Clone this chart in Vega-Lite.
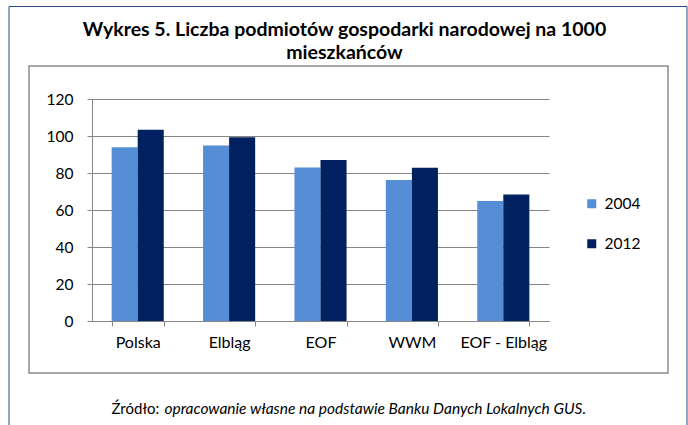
{
  "$schema": "https://vega.github.io/schema/vega-lite/v6.json",
  "width": 639,
  "height": 307,
  "autosize": {"type": "none"},
  "padding": {"left": 29, "top": 66, "right": 20, "bottom": 52},
  "background": "white",
  "title": {
    "text": ["Wykres 5. Liczba podmiotów gospodarki narodowej na 1000", "mieszkańców"],
    "font": "Lato",
    "fontSize": 19.5,
    "fontWeight": "bold",
    "color": "black",
    "anchor": "middle",
    "lineHeight": 23,
    "offset": -58,
    "dx": -4
  },
  "data": {
    "values": [
      {"kategoria": "Polska", "rok": "2004", "wartosc": 93.9},
      {"kategoria": "Polska", "rok": "2012", "wartosc": 103.4},
      {"kategoria": "Elbląg", "rok": "2004", "wartosc": 94.9},
      {"kategoria": "Elbląg", "rok": "2012", "wartosc": 99.3},
      {"kategoria": "EOF", "rok": "2004", "wartosc": 83.0},
      {"kategoria": "EOF", "rok": "2012", "wartosc": 87.0},
      {"kategoria": "WWM", "rok": "2004", "wartosc": 76.2},
      {"kategoria": "WWM", "rok": "2012", "wartosc": 82.8},
      {"kategoria": "EOF - Elbląg", "rok": "2004", "wartosc": 64.8},
      {"kategoria": "EOF - Elbląg", "rok": "2012", "wartosc": 68.4}
    ]
  },
  "mark": {"type": "bar", "strokeWidth": 0},
  "encoding": {
    "x": {
      "field": "kategoria",
      "type": "nominal",
      "sort": null,
      "scale": {"range": [63, 520], "paddingInner": 0.43, "paddingOuter": 0.215},
      "axis": {
        "title": "opracowanie własne na podstawie Banku Danych Lokalnych GUS.",
        "titleFont": "Lato",
        "titleFontStyle": "italic",
        "titleFontWeight": "normal",
        "titleFontSize": 15.5,
        "titleColor": "black",
        "titleX": 135,
        "titleY": 92,
        "titleAlign": "left",
        "titleBaseline": "alphabetic",
        "labelAngle": 0,
        "labelFont": "Lato",
        "labelFontSize": 16,
        "labelColor": "black",
        "labelPadding": 8,
        "tickBand": "extent",
        "tickSize": 5,
        "tickColor": "#868686",
        "domainColor": "#868686",
        "grid": false,
        "offset": -52
      }
    },
    "xOffset": {"field": "rok", "type": "nominal", "scale": {"paddingInner": 0}},
    "y": {
      "field": "wartosc",
      "type": "quantitative",
      "scale": {"domain": [0, 120], "range": [255, 33], "nice": false},
      "axis": {
        "title": "Źródło:",
        "titleFont": "Lato",
        "titleFontStyle": "normal",
        "titleFontWeight": "normal",
        "titleFontSize": 15,
        "titleColor": "black",
        "titleAngle": 0,
        "titleX": 19,
        "titleY": 347,
        "titleAlign": "left",
        "titleBaseline": "alphabetic",
        "values": [0, 20, 40, 60, 80, 100, 120],
        "grid": true,
        "gridColor": "#868686",
        "domainColor": "#868686",
        "tickColor": "#868686",
        "tickSize": 5,
        "labelFont": "Lato",
        "labelFontSize": 15.5,
        "labelColor": "black",
        "labelPadding": 14,
        "offset": -63
      }
    },
    "color": {
      "field": "rok",
      "type": "nominal",
      "scale": {"domain": ["2004", "2012"], "range": ["#558ED5", "#002060"]},
      "legend": {
        "orient": "none",
        "legendX": 555,
        "legendY": 130,
        "direction": "vertical",
        "title": null,
        "padding": 0,
        "labelFont": "Lato",
        "labelFontSize": 15.5,
        "labelColor": "black",
        "labelOffset": 5,
        "symbolType": "square",
        "symbolSize": 81,
        "symbolStrokeWidth": 0,
        "rowPadding": 23
      }
    },
    "stroke": {
      "field": "wartosc",
      "type": "quantitative",
      "scale": {"range": ["rgba(0,0,0,0)", "rgba(0,0,0,0)"]},
      "legend": {
        "orient": "none",
        "legendX": -20.5,
        "legendY": -60,
        "direction": "vertical",
        "title": null,
        "padding": 0,
        "gradientLength": 440,
        "gradientThickness": 678,
        "gradientStrokeWidth": 0,
        "labelExpr": "''",
        "labelOffset": 0,
        "labelFontSize": 1,
        "strokeColor": "#2E4A8C"
      }
    }
  },
  "config": {
    "view": {"stroke": "#8c8c8c", "strokeWidth": 1.5}
  }
}
